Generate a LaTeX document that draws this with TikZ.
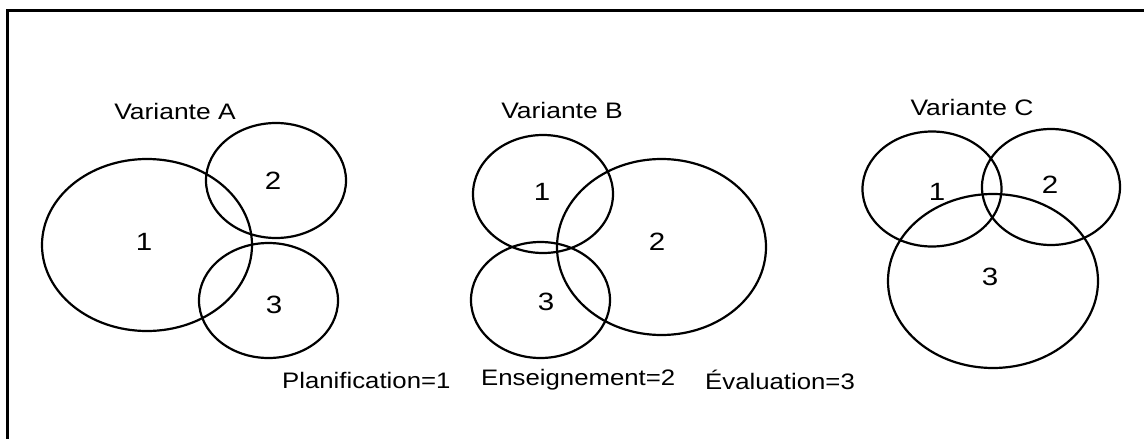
\documentclass[tikz,border=0pt]{standalone}
\usepackage{fontspec}
\usepackage{graphicx}
\setmainfont{Liberation Sans}
\newcommand{\wide}[1]{\scalebox{1.18}[1]{#1}}
\newcommand{\legwide}[1]{\scalebox{1.15}[1]{#1}}
\begin{document}
\begin{tikzpicture}[x=1pt,y=-1pt,
  ring/.style={line width=2.2pt},
  title/.style={font=\fontsize{22.4}{26}\selectfont, inner sep=0pt},
  num/.style={font=\fontsize{25}{28}\selectfont, inner sep=0pt},
  legend/.style={font=\fontsize{22.4}{26}\selectfont, inner sep=0pt, anchor=west}]
\useasboundingbox (0,0) rectangle (1144,439);
% outer frame (only top and left edges fall inside the page)
\draw[line width=3pt] (1144,10) -- (7,10) -- (7,441);

% Variante A
\node[title] (tA) at (175,111) {\wide{Variante A}};
\draw[ring] (147,245) ellipse [x radius=105, y radius=86];
\draw[ring] (276,180.5) ellipse [x radius=70, y radius=57.5];
\draw[ring] (268.5,300.5) ellipse [x radius=69.5, y radius=57.5];
\node[num] (a1) at (144,242) {\wide{1}};
\node[num] (a2) at (273,181) {\wide{2}};
\node[num] (a3) at (274,305) {\wide{3}};

% Variante B
\node[title] (tB) at (562,110) {\wide{Variante B}};
\draw[ring] (543,194) ellipse [x radius=70, y radius=59];
\draw[ring] (661.5,247) ellipse [x radius=104.5, y radius=88];
\draw[ring] (540.5,300) ellipse [x radius=69.5, y radius=58];
\node[num] (b1) at (542,192) {\wide{1}};
\node[num] (b2) at (657,242) {\wide{2}};
\node[num] (b3) at (546,302) {\wide{3}};

% Variante C
\node[title] (tC) at (972,107) {\wide{Variante C}};
\draw[ring] (932,189) ellipse [x radius=69.5, y radius=57.5];
\draw[ring] (1051,187) ellipse [x radius=69, y radius=58];
\draw[ring] (993,281) ellipse [x radius=105, y radius=87];
\node[num] (c1) at (937,192) {\wide{1}};
\node[num] (c2) at (1050,185) {\wide{2}};
\node[num] (c3) at (990,277) {\wide{3}};

% legend
\node[legend] (l1) at (282,380) {\legwide{Planification=1}};
\node[legend] (l2) at (481,380) {\legwide{Enseignement=2}};
\node[legend] (l3) at (705,380) {\legwide{Évaluation=3}};
\end{tikzpicture}
\end{document}
